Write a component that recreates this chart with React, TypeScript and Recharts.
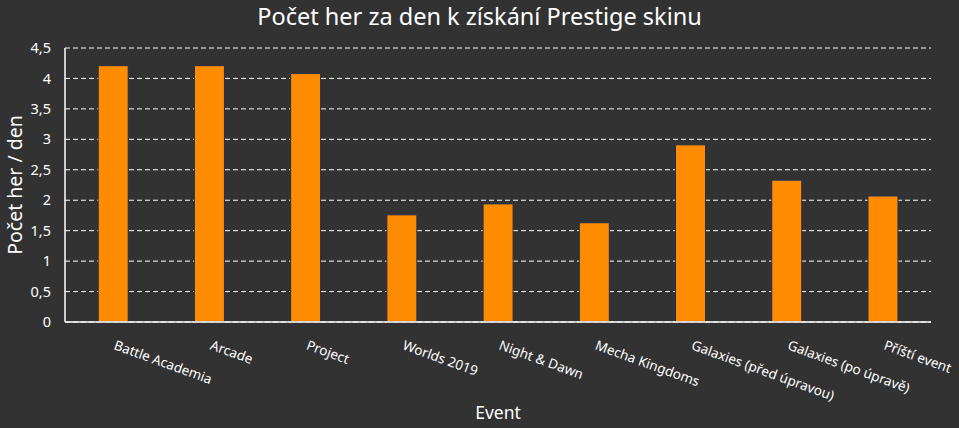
import React from 'react';
import { BarChart, Bar, XAxis, YAxis, CartesianGrid, Label } from 'recharts';

const categories = [
  'Battle Academia',
  'Arcade',
  'Project',
  'Worlds 2019',
  'Night & Dawn',
  'Mecha Kingdoms',
  'Galaxies (před úpravou)',
  'Galaxies (po úpravě)',
  'Příští event',
];
const values = [4.21, 4.21, 4.08, 1.76, 1.94, 1.63, 2.91, 2.33, 2.07];
const yTicks = [0, 0.5, 1, 1.5, 2, 2.5, 3, 3.5, 4, 4.5];

const data = categories.map((name, i) => ({ name, value: values[i] }));

const FONT = "'Noto Sans', 'Open Sans', sans-serif";
const BG = '#323232';

const XTick = (props: any) => {
  const { x, y, payload } = props;
  return (
    <text
      x={x}
      y={y + 25}
      transform={`rotate(20 ${x} ${y + 25})`}
      textAnchor="start"
      fill="#ffffff"
      fontSize={13.5}
      fontFamily={FONT}
    >
      {payload.value}
    </text>
  );
};

export default function App() {
  return (
    <div style={{ position: 'absolute', left: 0, top: 0, width: 959, height: 428, background: BG, fontFamily: FONT }}>
      <div
        style={{
          position: 'absolute',
          left: 0,
          top: 0,
          width: 959,
          height: 32,
          textAlign: 'center',
          color: '#ffffff',
          fontSize: 23.5,
          lineHeight: '32px',
          whiteSpace: 'nowrap',
        }}
      >
        Počet her za den k získání Prestige skinu
      </div>
      <BarChart
        width={959}
        height={428}
        data={data}
        margin={{ top: 48, right: 28, bottom: 0, left: 0 }}
        barCategoryGap="34.5%"
        style={{ position: 'absolute', left: 0, top: 0 }}
      >
        <CartesianGrid
          vertical={false}
          horizontal
          stroke="#ffffff"
          strokeDasharray="5 3"
          strokeWidth={1}
        />
        <XAxis
          dataKey="name"
          height={106}
          axisLine={{ stroke: '#ffffff', strokeWidth: 1.5 }}
          tickLine={false}
          tickSize={0}
          interval={0}
          tick={<XTick />}
        >
          <Label
            content={() => (
              <text x={498} y={419} textAnchor="middle" fill="#ffffff" fontSize={17.5} fontFamily={FONT}>
                Event
              </text>
            )}
          />
        </XAxis>
        <YAxis
          width={65}
          domain={[0, 4.5]}
          ticks={yTicks}
          interval={0}
          axisLine={{ stroke: '#ffffff', strokeWidth: 1.5 }}
          tickLine={false}
          tickSize={0}
          tickMargin={14}
          tick={{ fill: '#ffffff', fontSize: 14.5, fontFamily: FONT }}
          tickFormatter={(v: number) => String(v).replace('.', ',')}
        >
          <Label
            content={() => (
              <text
                x={22}
                y={185}
                transform="rotate(-90 22 185)"
                textAnchor="middle"
                fill="#ffffff"
                fontSize={19.5}
                fontFamily={FONT}
              >
                Počet her / den
              </text>
            )}
          />
        </YAxis>
        <Bar dataKey="value" fill="#FF8C00" stroke="#1f2f4f" strokeWidth={1} isAnimationActive={false} />
      </BarChart>
    </div>
  );
}
